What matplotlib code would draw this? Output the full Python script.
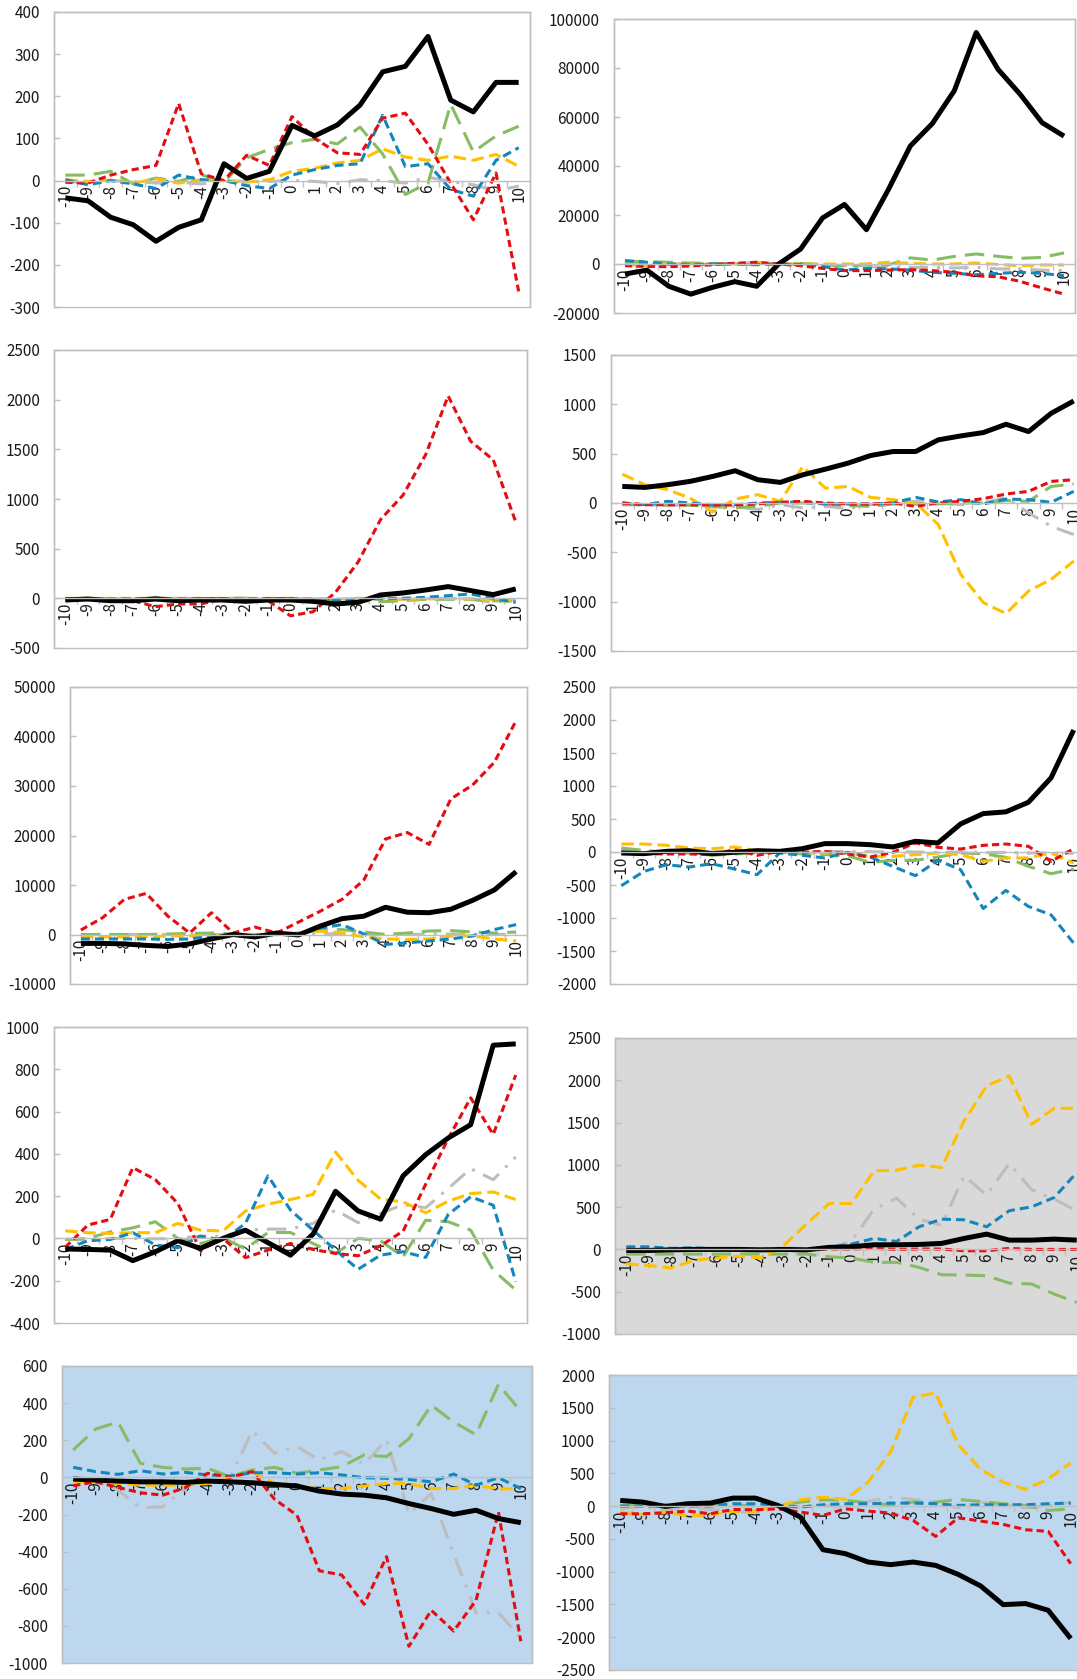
import matplotlib
matplotlib.use("Agg")
import matplotlib.pyplot as plt
from matplotlib.patches import Rectangle

plt.rcParams['font.family'] = ['Noto Sans CJK KR', 'DejaVu Sans']
plt.rcParams['lines.scale_dashes'] = False

categories = list(range(-10, 11))

# ---------------- Panel 1 ----------------
p1_black = [-41, -48, -87, -105, -144, -111, -93, 40, 5, 22, 131, 106, 132, 179, 258, 271, 342, 191, 163, 233, 233]
p1_red = [-4, -6, 13, 26, 36, 183, 16, 0, 60, 36, 152, 100, 66, 62, 148, 160, 86, -6, -93, 18, -263]
p1_blue = [2, -10, 0, -8, -19, 13, 2, 0, -12, -19, 13, 26, 36, 40, 155, 33, 40, -21, -37, 48, 78]
p1_yellow = [2, -2, 1, -6, 4, -6, 2, -2, -4, 2, 22, 29, 42, 48, 75, 56, 48, 58, 48, 62, 34]
p1_green = [13, 13, 22, -8, 6, -2, 14, -4, 54, 74, 90, 98, 87, 127, 63, -33, -6, 181, 68, 106, 129]
p1_gray = [-2, -6, 0, -2, -6, -4, -8, 0, -2, -2, 0, -2, -7, 2, 0, -6, 8, -2, -10, -25, -13]
p1_yticks = [-300, -200, -100, 0, 100, 200, 300, 400]

# ---------------- Panel 2 ----------------
p2_black = [-4100, -2500, -9100, -12300, -9500, -7200, -9100, 0, 6100, 18800, 24300, 14000, 30400, 48200, 57300, 70700, 94500, 79400, 69300, 57700, 52200]
p2_red = [-700, -1000, -1100, -800, -300, 300, 700, 0, -700, -1800, -2700, -2700, -2500, -2300, -2700, -3400, -4800, -5200, -7100, -9800, -12300]
p2_blue = [1400, 700, 0, -200, 0, 0, -200, 0, -200, -1000, -2500, -1800, -2000, -2500, -3400, -3800, -4400, -3800, -3400, -3800, -4800]
p2_yellow = [-200, -700, 0, 0, -200, 0, 300, 0, 0, 0, 0, 0, 700, 300, 0, 0, 400, -200, -700, -400, -400]
p2_green = [1100, 1000, 700, 400, 200, 0, -400, 0, 200, -200, -800, -400, -400, 2500, 1600, 3100, 4100, 3100, 2300, 2700, 4500]
p2_gray = [700, 200, 0, 200, 200, 200, 700, 0, 0, -200, -700, -1000, -1400, -1400, -1400, -1600, -1400, -2000, -2000, -2500, -2700]
p2_yticks = [-20000, 0, 20000, 40000, 60000, 80000, 100000]

# ---------------- Panel 3 ----------------
p3_black = [-17, -7, -24, -24, -7, -24, -17, -17, -30, -17, -17, -30, -57, -40, 34, 54, 84, 118, 78, 37, 95]
p3_red = [-7, -7, -24, -24, -84, -57, -57, -7, -17, -24, -176, -135, 61, 365, 794, 1040, 1446, 2037, 1581, 1395, 770]
p3_blue = [-5, -5, -5, -5, 0, -5, -5, -5, -5, -5, -5, -10, -20, -10, -5, 0, 10, 27, 44, 0, -40]
p3_yellow = [0, 0, 0, 0, 0, 0, 0, 0, 0, 0, 0, -5, -10, 0, -5, -10, -5, 0, -5, -10, -24]
p3_green = [-10, -10, -10, -10, -5, -10, -10, -10, -10, -10, -10, -10, -20, -20, -34, -24, -10, -10, -10, -24, -30]
p3_gray = [-5, -5, -5, -5, 10, -5, -5, -5, 5, -5, -5, -5, -10, 0, -10, -10, -5, 0, -10, -40, -10]
p3_yticks = [-500, 0, 500, 1000, 1500, 2000, 2500]

# ---------------- Panel 4 ----------------
p4_black = [168, 158, 185, 219, 269, 327, 236, 209, 286, 343, 404, 481, 522, 522, 640, 680, 714, 798, 724, 909, 1034]
p4_red = [0, -17, -17, -17, -20, -20, -10, 7, 17, 0, -10, -10, 0, -34, 0, 17, 44, 91, 118, 219, 236]
p4_blue = [0, -17, 17, 0, -17, -17, 0, 7, 7, -10, -10, -10, 0, 57, 10, 34, -10, 40, 34, 7, 118]
p4_yellow = [293, 185, 135, 50, -90, 40, 84, 17, 370, 150, 168, 57, 34, 0, -219, -724, -1010, -1121, -892, -774, -589]
p4_green = [-17, -17, -17, -24, -34, -50, -34, 0, 0, -10, -27, -34, -10, -10, -10, 0, 0, 24, 17, 168, 192]
p4_gray = [-17, -17, -27, -17, -40, -34, -67, -17, -50, -34, -57, -17, 0, 17, 0, -17, 0, 57, -100, -236, -320]
p4_yticks = [-1500, -1000, -500, 0, 500, 1000, 1500]

# ---------------- Panel 5 ----------------
p5_black = [-1800, -1800, -1900, -2200, -2400, -1900, -900, 0, -500, 300, -100, 1700, 3200, 3700, 5500, 4500, 4400, 5100, 6900, 9000, 12700]
p5_red = [900, 3400, 7100, 8300, 3700, 300, 4400, 300, 1500, 300, 2500, 4700, 7100, 11000, 19300, 20600, 18200, 27400, 30200, 34800, 43200]
p5_blue = [-900, -900, -900, -900, -1000, -900, -300, 0, -200, 100, 100, 1300, 2000, 100, -2000, -1700, -1300, -900, -300, 1000, 2000]
p5_yellow = [-500, -500, -500, -500, -300, -300, -200, 0, 0, 0, 300, 700, 300, -500, -900, -1000, -900, -300, -300, -900, -1300]
p5_green = [0, 0, 0, 0, 100, 200, 300, 100, 0, 0, 300, 900, 1000, 500, 0, 300, 700, 800, 500, 300, 500]
p5_gray = [0, 0, 0, 0, 0, 0, 0, 0, 0, 0, 0, 100, 200, 100, 0, 0, 100, 100, 0, 0, 100]
p5_yticks = [-10000, 0, 10000, 20000, 30000, 40000, 50000]

# ---------------- Panel 6 ----------------
p6_black = [-15, -25, 10, 20, -25, -5, 20, 10, 50, 127, 127, 111, 76, 162, 137, 425, 582, 608, 754, 1124, 1848]
p6_red = [-5, -25, -30, -30, -40, 35, -50, 10, -5, 10, -30, -76, -5, 137, 71, 45, 101, 121, 86, -142, 50]
p6_blue = [-511, -294, -192, -228, -177, -258, -344, -15, -50, -91, -5, -76, -218, -359, -127, -268, -856, -582, -825, -952, -1382]
p6_yellow = [121, 121, 101, 60, 50, 76, 20, 0, -15, -15, -15, -66, -66, -40, -15, -40, -142, -91, -91, -15, -167]
p6_green = [60, 25, -5, -15, -50, -30, -15, -5, -30, -40, -56, -157, -127, -127, -76, -15, -25, -81, -218, -329, -258]
p6_gray = [35, 10, 5, 0, 0, 5, 0, 0, 0, 5, 10, 5, 0, 0, -5, 0, -10, -5, -15, -15, -20]
p6_yticks = [-2000, -1500, -1000, -500, 0, 500, 1000, 1500, 2000, 2500]

# ---------------- Panel 7 ----------------
p7_black = [-50, -52, -55, -105, -63, -11, -47, 0, 39, -20, -79, 20, 223, 130, 91, 296, 396, 475, 538, 914, 920]
p7_red = [-42, 63, 90, 335, 278, 165, -55, 0, -91, -55, -24, -52, -71, -82, -35, 35, 256, 472, 665, 492, 773]
p7_blue = [-52, -11, -5, 27, -31, -44, 11, -8, 71, 296, 134, 39, -55, -146, -79, -63, -90, 113, 197, 157, -204]
p7_yellow = [36, 27, 24, 27, 27, 71, 39, 35, 130, 162, 184, 208, 409, 275, 186, 173, 121, 176, 212, 220, 184]
p7_green = [-5, 0, 31, 50, 79, 0, -24, 3, -50, 28, 28, -24, -71, 0, -11, -87, 86, 79, 39, -150, -244]
p7_gray = [-5, -5, 0, 0, -2, 0, 11, 8, 39, 44, 44, 71, 134, 75, 118, 160, 145, 236, 330, 278, 385]
p7_yticks = [-400, -200, 0, 200, 400, 600, 800, 1000]

# ---------------- Panel 8 ----------------
p8_black = [-12, -12, -5, 0, 0, 0, -5, 0, -5, 24, 31, 55, 55, 59, 71, 130, 181, 110, 110, 122, 110]
p8_red = [0, 0, 0, 0, 0, 0, 0, 0, 0, 5, 5, 12, 0, 5, 5, -16, -16, 12, 0, 0, 0]
p8_blue = [31, 31, 12, 20, 5, 0, -5, -5, 0, 24, 63, 130, 94, 268, 358, 350, 268, 457, 504, 614, 909]
p8_yellow = [-170, -190, -220, -130, -100, -80, -100, 50, 299, 543, 543, 929, 937, 996, 969, 1520, 1933, 2051, 1480, 1669, 1669]
p8_green = [-55, -55, -55, -55, -55, -55, -55, -55, -55, -87, -102, -153, -153, -213, -299, -303, -311, -398, -409, -528, -626]
p8_gray = [0, 0, 0, 5, 10, 10, 10, 20, 10, 10, 100, 476, 606, 358, 287, 870, 642, 1016, 705, 594, 457]
p8_yticks = [-1000, -500, 0, 500, 1000, 1500, 2000, 2500]

# ---------------- Panel 9 ----------------
p9_black = [-9, -14, -20, -24, -24, -27, -20, -24, -29, -38, -47, -74, -90, -96, -110, -141, -168, -199, -177, -222, -244]
p9_red = [-45, -24, -54, -83, -96, -56, 22, 0, 31, -118, -204, -503, -526, -684, -427, -910, -716, -828, -662, -186, -883]
p9_blue = [54, 31, 16, 36, 18, 27, 13, 7, 25, 25, 18, 25, 13, -2, -5, -11, -24, 18, -42, -2, -60]
p9_yellow = [-24, -27, -33, -42, -42, -42, -33, -5, 31, -33, -51, -60, -60, -47, -33, -33, -60, -60, -42, -63, -60]
p9_green = [148, 260, 298, 76, 54, 45, 49, 4, 40, 54, 22, 40, 58, 121, 112, 208, 389, 298, 230, 501, 356]
p9_gray = [-24, -18, -69, -163, -159, -60, 13, -5, 251, 130, 166, 94, 139, 71, 203, -195, -87, -412, -729, -729, -864]
p9_yticks = [-1000, -800, -600, -400, -200, 0, 200, 400, 600]

# ---------------- Panel 10 ----------------
p10_black = [86, 61, -5, 36, 46, 122, 122, 10, -168, -665, -726, -853, -893, -853, -904, -1041, -1218, -1503, -1487, -1589, -2020]
p10_red = [-117, -117, -102, -76, -117, -51, -56, -41, -91, -142, -41, -76, -107, -218, -462, -178, -228, -279, -360, -386, -878]
p10_blue = [0, 0, 0, 0, 0, 36, 36, 10, -15, 20, 36, 36, 46, 46, 36, 10, 20, 20, 20, 36, 46]
p10_yellow = [-91, -132, -91, -152, -132, -81, -76, 0, 96, 137, 102, 365, 822, 1660, 1726, 939, 558, 365, 254, 416, 660]
p10_green = [10, 20, 20, 20, 36, 20, 0, 0, 61, 96, 86, 51, 20, 61, 61, 102, 71, 36, 10, -66, -41]
p10_gray = [-41, 0, -66, -15, -51, -81, -102, -15, -15, 10, -15, 71, 137, 102, 61, -25, 61, 20, -25, 10, 61]
p10_yticks = [-2500, -2000, -1500, -1000, -500, 0, 500, 1000, 1500, 2000]

# ---------------- styles & layout ----------------
styles = {
    'gray':   dict(color='#BDBDBD', lw=2.2, ls=(0, (14, 6.5, 2.2, 6.5))),
    'green':  dict(color='#86BC64', lw=2.2, ls=(0, (14, 6.5))),
    'yellow': dict(color='#FFC000', lw=2.2, ls=(0, (9, 4))),
    'blue':   dict(color='#1386BC', lw=2.2, ls=(0, (6.5, 3.6))),
    'red':    dict(color='#E50D12', lw=2.2, ls=(0, (5.2, 3.0))),
    'black':  dict(color='#000000', lw=3.6, ls='-'),
}
order = ['gray', 'green', 'yellow', 'blue', 'red', 'black']

panels = [
    (dict(black=p1_black, red=p1_red, blue=p1_blue, yellow=p1_yellow, green=p1_green, gray=p1_gray), p1_yticks, 'white', (54, 12, 530, 307)),
    (dict(black=p2_black, red=p2_red, blue=p2_blue, yellow=p2_yellow, green=p2_green, gray=p2_gray), p2_yticks, 'white', (614, 19, 1075, 313)),
    (dict(black=p3_black, red=p3_red, blue=p3_blue, yellow=p3_yellow, green=p3_green, gray=p3_gray), p3_yticks, 'white', (54, 350, 527, 648)),
    (dict(black=p4_black, red=p4_red, blue=p4_blue, yellow=p4_yellow, green=p4_green, gray=p4_gray), p4_yticks, 'white', (611, 355, 1085, 651)),
    (dict(black=p5_black, red=p5_red, blue=p5_blue, yellow=p5_yellow, green=p5_green, gray=p5_gray), p5_yticks, 'white', (70, 687, 527, 984)),
    (dict(black=p6_black, red=p6_red, blue=p6_blue, yellow=p6_yellow, green=p6_green, gray=p6_gray), p6_yticks, 'white', (610, 687, 1085, 984)),
    (dict(black=p7_black, red=p7_red, blue=p7_blue, yellow=p7_yellow, green=p7_green, gray=p7_gray), p7_yticks, 'white', (54, 1027, 527, 1323)),
    (dict(black=p8_black, red=p8_red, blue=p8_blue, yellow=p8_yellow, green=p8_green, gray=p8_gray), p8_yticks, '#D9D9D9', (615, 1038, 1088, 1334)),
    (dict(black=p9_black, red=p9_red, blue=p9_blue, yellow=p9_yellow, green=p9_green, gray=p9_gray), p9_yticks, '#BDD7EE', (62, 1366, 532, 1663)),
    (dict(black=p10_black, red=p10_red, blue=p10_blue, yellow=p10_yellow, green=p10_green, gray=p10_gray), p10_yticks, '#BDD7EE', (609, 1375, 1082, 1670)),
]

W, H = 1077, 1679
fig = plt.figure(figsize=(W / 100, H / 100), dpi=100)
fig.patch.set_facecolor('white')

frame_color = '#BFBFBF'
text_color = '#1A1A1A'

for series, yticks, bg, (l, t, r, b) in panels:
    ax = fig.add_axes([l / W, 1 - b / H, (r - l) / W, (b - t) / H])
    ax.set_facecolor(bg)
    for name in order:
        st = styles[name]
        ax.plot(categories, series[name], color=st['color'], lw=st['lw'],
                linestyle=st['ls'], dash_capstyle='butt', solid_capstyle='butt',
                solid_joinstyle='round', dash_joinstyle='round')
    ax.set_xlim(categories[0] - 0.5, categories[-1] + 0.5)
    ax.set_ylim(yticks[0], yticks[-1])
    ax.set_yticks(yticks, labels=[str(v) for v in yticks])
    ax.set_xticks(categories, labels=[str(c) for c in categories])
    ax.set_xticks([c + 0.5 for c in categories[:-1]], minor=True)

    for side in ['top', 'right', 'left']:
        ax.spines[side].set_color(frame_color)
        ax.spines[side].set_linewidth(1.0)
    ax.spines['bottom'].set_position(('data', 0))
    ax.spines['bottom'].set_color(frame_color)
    ax.spines['bottom'].set_linewidth(1.0)
    ax.add_patch(Rectangle((0, 0), 1, 1, transform=ax.transAxes, fill=False,
                           edgecolor=frame_color, lw=1.0, clip_on=False, zorder=0.5))

    ax.tick_params(axis='y', direction='in', length=4, width=1, color=frame_color,
                   pad=10, labelsize=11, labelcolor=text_color)
    ax.tick_params(axis='x', which='major', length=0, pad=3, labelsize=11,
                   labelcolor=text_color, labelrotation=90)
    ax.tick_params(axis='x', which='minor', direction='out', length=4, width=1,
                   color=frame_color)
    for lab in ax.get_xticklabels():
        lab.set_verticalalignment('top')
        lab.set_horizontalalignment('center')

fig.savefig('out.png', dpi=100, facecolor='white')
